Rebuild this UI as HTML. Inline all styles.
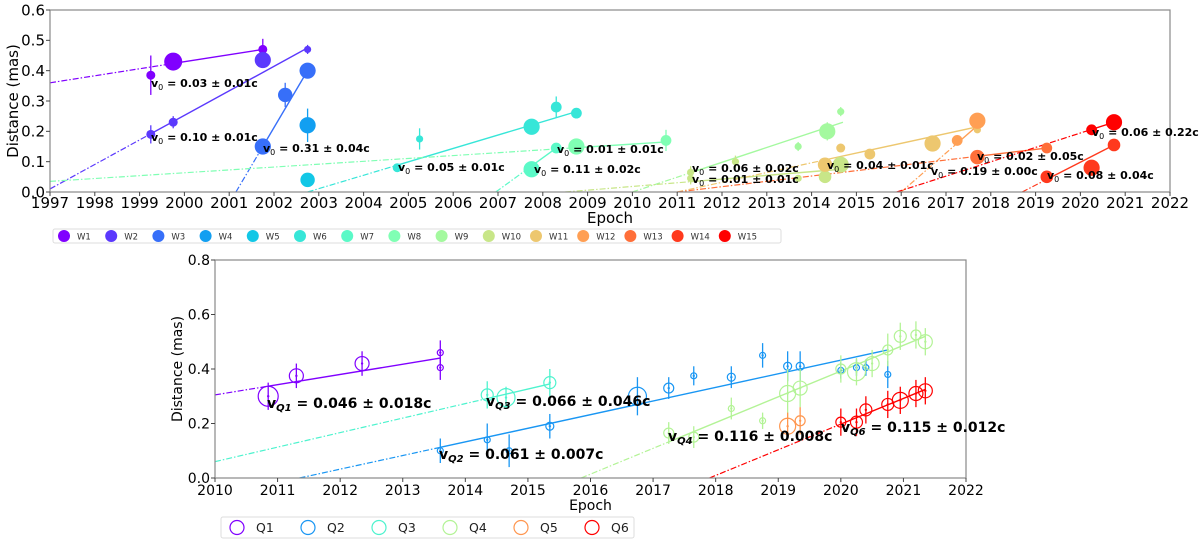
<!DOCTYPE html>
<html><head><meta charset="utf-8"><style>
body{margin:0;background:#fff;}
svg{display:block;font-family:"DejaVu Sans","Liberation Sans",sans-serif;}
</style></head><body>
<svg id="c" width="1200" height="543" viewBox="0 0 1200 543"></svg>
<script>
// ---------- TOP CHART DATA ----------
const topNames=["W1","W2","W3","W4","W5","W6","W7","W8","W9","W10","W11","W12","W13","W14","W15"];
const topX=[[1999.25,1999.75,2001.75],[1999.25,1999.75,2001.75,2002.75],[2001.75,2002.25,2002.75],[2002.75],[2002.75],
[2004.75,2005.25,2007.75,2008.3,2008.75],[2007.75,2008.3],[2008.75,2010.75],[2013.7,2014.35,2014.65],
[2011.3,2011.3,2012.3,2013.7,2014.3,2014.65],[2014.3,2014.65,2015.3,2016.7,2017.7],[2017.25,2017.7],[2017.7,2019.25],
[2019.25,2020.25,2020.75],[2020.25,2020.75]];
const topY=[[0.385,0.43,0.47],[0.19,0.23,0.435,0.47],[0.15,0.32,0.40],[0.22],[0.04],
[0.08,0.175,0.215,0.28,0.26],[0.075,0.145],[0.15,0.17],[0.15,0.2,0.265],
[0.065,0.045,0.1,0.045,0.05,0.09],[0.09,0.145,0.125,0.16,0.205],[0.17,0.235],[0.115,0.145],
[0.05,0.08,0.155],[0.205,0.23]];
const topErr=[[0.065,0,0.035],[0.03,0.02,0,0.015],[0,0.04,0],[0.055],[0],
[0,0.035,0.025,0.035,0],[0,0],[0,0.035],[0.015,0.03,0.015],
[0.02,0.02,0.02,0,0,0],[0,0,0,0,0.01],[0,0],[0,0],[0,0,0],[0,0]];
const topSize=[[5,10,5],[5,5,9,4],[9,8,9],[9],[8],[5,4,9,6,6],[9,6],[9,6],[4,9,4],[4,4,4,4,7,9],[8,5,6,9,4],[6,9],[8,6],[7,9,7],[6,9]];
const topFitIdx=[0,1,2,5,6,7,8,9,10,11,12,13,14];
const topFitX0=[1997,1997,2001.15,2002.75,2006.95,1997,2010,2008.5,2011,2016,2011,2018.7,2015.9];
const topFitY0=[0.36,0.01,0,0,0,0.035,0,0,0,0,0,0,0];
const topFitSolid=[1999.75,1999.25,2001.75,2004.75,2007.75,2008.75,2011.3,2011.3,2014.3,2017.25,2017.7,2019.25,2020.25];
const topFitX1=[2001.75,2002.75,2002.75,2008.75,2008.3,2010.75,2014.7,2014.65,2017.7,2017.75,2019.25,2020.75,2020.75];
const topFitY1=[0.47,0.475,0.40,0.265,0.145,0.165,0.23,0.075,0.215,0.225,0.145,0.155,0.23];
const topLabels=["0.03 ± 0.01c","0.10 ± 0.01c","0.31 ± 0.04c","0.05 ± 0.01c","0.01 ± 0.01c","0.11 ± 0.02c","0.06 ± 0.02c","0.01 ± 0.01c","0.04 ± 0.01c","0.19 ± 0.00c","0.02 ± 0.05c","0.06 ± 0.22c","0.08 ± 0.04c"];
const topLabelPos=[[151,87],[151,141],[263,152],[398,171],[557,153],[534,173],[692,172],[692,183],[827,169],[931,175],[977,160],[1092,136],[1047,179]];
const topXTicks=[1997,1998,1999,2000,2001,2002,2003,2004,2005,2006,2007,2008,2009,2010,2011,2012,2013,2014,2015,2016,2017,2018,2019,2020,2021,2022];
const topYTicks=[0.0,0.1,0.2,0.3,0.4,0.5,0.6];
// ---------- BOTTOM CHART DATA ----------
const botNames=["Q1","Q2","Q3","Q4","Q5","Q6"];
const botT=[0,0.2,0.4,0.6,0.8,1];
const botX=[[2010.85,2011.3,2012.35,2013.6,2013.6],
[2013.6,2014.35,2014.7,2015.35,2016.75,2017.25,2017.65,2018.25,2018.75,2019.15,2019.35,2020,2020.25,2020.4,2020.75],
[2014.35,2014.65,2015.35],
[2017.25,2017.65,2018.25,2018.75,2019.15,2019.35,2020,2020.25,2020.5,2020.75,2020.95,2021.2,2021.35],
[2019.15,2019.35],
[2020,2020.25,2020.4,2020.75,2020.95,2021.2,2021.35]];
const botY=[[0.30,0.375,0.42,0.46,0.405],
[0.10,0.14,0.10,0.19,0.30,0.33,0.375,0.37,0.45,0.41,0.41,0.395,0.405,0.405,0.38],
[0.305,0.295,0.35],
[0.165,0.15,0.255,0.21,0.31,0.33,0.40,0.39,0.42,0.47,0.52,0.525,0.50],
[0.19,0.21],
[0.205,0.205,0.25,0.27,0.285,0.31,0.32]];
const botErr=[[0.05,0.045,0.045,0.045,0.045],
[0.045,0.06,0.06,0.045,0.07,0.04,0.035,0.04,0.045,0.055,0.055,0.03,0.03,0.03,0.05],
[0.05,0.04,0.05],
[0.04,0.04,0.04,0.03,0.09,0.07,0.05,0.05,0.05,0.06,0.05,0.05,0.05],
[0.05,0.05],
[0.05,0.05,0.05,0.05,0.05,0.05,0.05]];
const botSize=[[10,7,7,3,3],[3,3,3,4,9,5,3,4,3,4,4,3,3,3,3],[6,9,6],[5,5,3,3,8,7,5,9,7,5,6,5,7],[8,5],[5,6,6,6,8,7,7]];
const botFitIdx=[0,1,2,3,5];
const botFitX0=[2010,2011.35,2010,2015.85,2017.9];
const botFitY0=[0.305,0,0.06,0,0];
const botFitSolid=[2010.85,2013.6,2014.35,2017.25,2020];
const botFitX1=[2013.6,2020.75,2015.35,2021.35,2021.35];
const botFitY1=[0.44,0.47,0.345,0.52,0.325];
const botLabels=["Q1","Q2","Q3","Q4","Q6"];
const botLabelVals=["0.046 ± 0.018c","0.061 ± 0.007c","0.066 ± 0.046c","0.116 ± 0.008c","0.115 ± 0.012c"];
const botLabelPos=[[267,408],[439,459],[486,406],[668,441],[841,432]];
const botXTicks=[2010,2011,2012,2013,2014,2015,2016,2017,2018,2019,2020,2021,2022];
const botYTicks=[0.0,0.2,0.4,0.6,0.8];

const NS="http://www.w3.org/2000/svg";
const svg=document.getElementById('c');
function mk(tag,attrs,parent){const e=document.createElementNS(NS,tag);for(const k in attrs)e.setAttribute(k,attrs[k]);(parent||svg).appendChild(e);return e;}
function rainbow(t){const cl=v=>Math.max(0,Math.min(1,v));const r=cl(Math.abs(2*t-0.5)),g=cl(Math.sin(Math.PI*t)),b=cl(Math.cos(Math.PI*t/2));
return `rgb(${Math.round(r*255)},${Math.round(g*255)},${Math.round(b*255)})`;}

function drawChart(o){
  const sx=v=>o.L+(v-o.x0)/(o.x1-o.x0)*(o.R-o.L);
  const sy=v=>o.B-(v-o.y0)/(o.y1-o.y0)*(o.B-o.T);
  const g=mk('g',{});
  
  
  const clipId=o.name+'-clip';
  const cp=mk('clipPath',{id:clipId},g);mk('rect',{x:o.L,y:o.T,width:o.R-o.L,height:o.B-o.T},cp);
  const plot=mk('g',{'clip-path':`url(#${clipId})`},g);
  
  
  o.fitIdx.forEach((si,k)=>{
    const col=o.color(si);
    const f=v=>o.fy0[k]+(v-o.fx0[k])*(o.fy1[k]-o.fy0[k])/(o.fx1[k]-o.fx0[k]);
    const d=mk('line',{x1:sx(o.fx0[k]),y1:sy(o.fy0[k]),x2:sx(o.fs[k]),y2:sy(f(o.fs[k])),stroke:col,'stroke-width':1.2,'stroke-dasharray':'6,2,1.5,2'},plot);
    
    
    const s=mk('line',{x1:sx(o.fs[k]),y1:sy(f(o.fs[k])),x2:sx(o.fx1[k]),y2:sy(o.fy1[k]),stroke:col,'stroke-width':1.4},plot);
    
    
  });
  o.X.forEach((xs,si)=>{
    const col=o.color(si);
    xs.forEach((xv,j)=>{
      const cx=sx(xv),cy=sy(o.Y[si][j]),r=o.S[si][j]*o.scale,e=o.E[si][j];
      if(e>0){const eb=mk('line',{x1:cx,x2:cx,y1:sy(o.Y[si][j]-e),y2:sy(o.Y[si][j]+e),stroke:col,'stroke-width':1.3},plot);
        
        }
      const c=mk('circle',o.hollow?{cx:cx,cy:cy,r:r,fill:'none',stroke:col,'stroke-width':1.2}:{cx:cx,cy:cy,r:r,fill:col},plot);
      
      
      if(o.hollow){const dd=mk('circle',{cx:cx,cy:cy,r:1.2,fill:col},plot);
        
        }
    });
  });
  const fr=mk('rect',{x:o.L,y:o.T,width:o.R-o.L,height:o.B-o.T,fill:'none',stroke:'#888','stroke-width':1.2},g);
  
  
  o.xt.forEach(v=>{
    const t=mk('line',{x1:sx(v),x2:sx(v),y1:o.B,y2:o.B+4,stroke:'#444'},g);
    
    
    const tx=mk('text',{x:sx(v),y:o.B+o.xTickOff,'text-anchor':'middle','font-size':o.fs1,fill:'#000'},g);
    tx.textContent=v;
    
    
  });
  o.yt.forEach(v=>{
    const t=mk('line',{x1:o.L-4,x2:o.L,y1:sy(v),y2:sy(v),stroke:'#444'},g);
    
    
    const tx=mk('text',{x:o.L-5,y:sy(v)+o.fs1*0.36,'text-anchor':'end','font-size':o.fs1,fill:'#000'},g);
    tx.textContent=v.toFixed(1);
    
    
  });
  const xl=mk('text',{x:(o.L+o.R)/2,y:o.xTitleY,'text-anchor':'middle','font-size':o.fs1,fill:'#000'},g);
  xl.textContent='Epoch';
  
  
  const yl=mk('text',{x:0,y:0,'text-anchor':'middle','font-size':o.fs1,fill:'#000',transform:`translate(${o.yTitleX},${(o.T+o.B)/2}) rotate(-90)`},g);
  yl.textContent='Distance (mas)';
  
  
  return {sx,sy};
}

drawChart({name:'top-chart',L:50,R:1170,T:10,B:192,x0:1997,x1:2022,y0:0,y1:0.6,X:topX,Y:topY,E:topErr,S:topSize,scale:0.9,hollow:false,
  names:topNames,color:i=>rainbow(i/14),fitIdx:topFitIdx,fx0:topFitX0,fy0:topFitY0,fs:topFitSolid,fx1:topFitX1,fy1:topFitY1,
  xt:topXTicks,yt:topYTicks,fs1:15,xTickOff:16,xTitleY:223,yTitleX:18});
drawChart({name:'bottom-chart',L:215,R:966,T:260,B:478,x0:2010,x1:2022,y0:0,y1:0.8,X:botX,Y:botY,E:botErr,S:botSize,scale:1,hollow:true,
  names:botNames,color:i=>rainbow(botT[i]),fitIdx:botFitIdx,fx0:botFitX0,fy0:botFitY0,fs:botFitSolid,fx1:botFitX1,fy1:botFitY1,
  xt:botXTicks,yt:botYTicks,fs1:14,xTickOff:17,xTitleY:510,yTitleX:182});

topLabels.forEach((s,i)=>{
  const t=mk('text',{x:topLabelPos[i][0],y:topLabelPos[i][1],'font-size':11,'font-weight':'bold',fill:'#000'});
  t.innerHTML='v<tspan font-size="8" font-weight="normal" dy="3">0</tspan><tspan dy="-3"> = '+s+'</tspan>';
  
  
});
botLabelVals.forEach((s,i)=>{
  const t=mk('text',{x:botLabelPos[i][0],y:botLabelPos[i][1],'font-size':14,'font-weight':'bold',fill:'#000'});
  t.innerHTML='v<tspan font-size="10" font-style="italic" dy="3">'+botLabels[i]+'</tspan><tspan dy="-3"> = '+s+'</tspan>';
  
  
});

const lg1=mk('g',{});


mk('rect',{x:53,y:229,width:728,height:14,fill:'#fff',stroke:'#ddd','stroke-width':1,rx:2},lg1);
topNames.forEach((n,i)=>{
  const cx=64+i*47.2;
  const c=mk('circle',{cx:cx,cy:236,r:6,fill:rainbow(i/14)},lg1);
  
  
  const t=mk('text',{x:cx+13,y:239.5,'font-size':8.5,fill:'#333'},lg1);
  t.textContent=n;
  
  
});
const lg2=mk('g',{});


mk('rect',{x:221,y:517,width:413,height:21,fill:'#fff',stroke:'#ddd','stroke-width':1,rx:2},lg2);
botNames.forEach((n,i)=>{
  const cx=237+i*71;
  const c=mk('circle',{cx:cx,cy:527.5,r:7,fill:'none',stroke:rainbow(botT[i]),'stroke-width':1.2},lg2);
  
  
  const t=mk('text',{x:cx+19,y:532,'font-size':12.5,fill:'#222'},lg2);
  t.textContent=n;
  
  
});
</script>
</body></html>
